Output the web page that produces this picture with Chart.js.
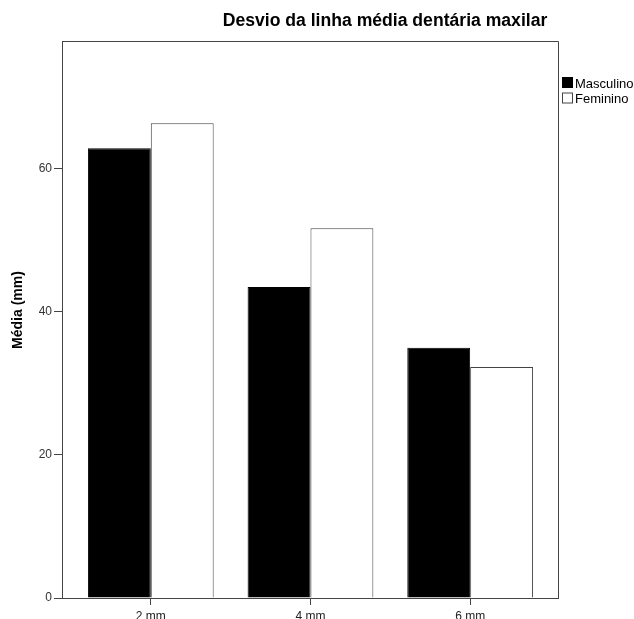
<!DOCTYPE html>
<html>
<head>
<meta charset="utf-8">
<script src="https://cdn.jsdelivr.net/npm/chart.js@4/dist/chart.umd.min.js"></script>
<style>
  html, body { margin: 0; padding: 0; background: #fff; }
  #wrap { width: 634px; height: 619px; position: relative; }
</style>
</head>
<body>
<div id="wrap"><canvas id="c" width="634" height="619"></canvas></div>
<script>
// ---- data ----
const chartTitle = 'Desvio da linha média dentária maxilar';
const yAxisTitle = 'Média (mm)';
const categories = ['2 mm', '4 mm', '6 mm'];
const seriesNames = ['Masculino', 'Feminino'];
const masculino = [62.9, 43.5, 35.0];
const feminino = [66.4, 51.7, 32.3];
const yTicks = [0, 20, 40, 60];
const yMax = 77.9;

const FONT = "'Liberation Sans', Arial, sans-serif";
const AXIS = '#444';

const toPoints = arr => arr.map((v, i) => ({ x: i + 1, y: v }));

const decor = {
  id: 'decor',
  afterDraw(chart) {
    const ctx = chart.ctx;
    const a = chart.chartArea;
    ctx.save();
    // frame top and right
    ctx.strokeStyle = AXIS;
    ctx.lineWidth = 1;
    ctx.beginPath();
    ctx.moveTo(Math.round(a.left) + 0.5, Math.round(a.top) + 0.5);
    ctx.lineTo(Math.round(a.right) + 0.5, Math.round(a.top) + 0.5);
    ctx.lineTo(Math.round(a.right) + 0.5, Math.round(a.bottom) + 0.5);
    ctx.stroke();
    // title
    ctx.fillStyle = '#000';
    ctx.font = 'bold 17.6px ' + FONT;
    ctx.textAlign = 'center';
    ctx.textBaseline = 'alphabetic';
    ctx.fillText(chartTitle, 385, 26);
    // y title
    ctx.save();
    ctx.translate(22, 310);
    ctx.rotate(-Math.PI / 2);
    ctx.font = 'bold 14px ' + FONT;
    ctx.textAlign = 'center';
    ctx.fillText(yAxisTitle, 0, 0);
    ctx.restore();
    // legend
    ctx.font = '13px ' + FONT;
    ctx.textAlign = 'left';
    chart.data.datasets.forEach((ds, i) => {
      const y = 77 + i * 15.5;
      ctx.fillStyle = ds.backgroundColor;
      ctx.fillRect(562, y, 11, 11);
      ctx.strokeStyle = ds.borderColor;
      ctx.strokeRect(562.5, y + 0.5, 10, 10);
      ctx.fillStyle = '#000';
      ctx.fillText(ds.label, 575, y + 10.5);
    });
    ctx.restore();
  }
};

new Chart(document.getElementById('c'), {
  type: 'bar',
  data: {
    datasets: [
      { label: seriesNames[0], data: toPoints(masculino), backgroundColor: '#000', borderColor: '#000', borderWidth: 1 },
      { label: seriesNames[1], data: toPoints(feminino), backgroundColor: '#fff', borderColor: '#444', borderWidth: 1 }
    ]
  },
  options: {
    responsive: false,
    animation: false,
    devicePixelRatio: 1,
    layout: { padding: { top: 41, right: 76, left: 0, bottom: 0 } },
    plugins: { legend: { display: false }, title: { display: false }, tooltip: { enabled: false } },
    datasets: { bar: { categoryPercentage: 0.7875, barPercentage: 1 } },
    scales: {
      x: {
        type: 'linear',
        min: 0.444,
        max: 3.55,
        offset: false,
        afterFit(s) { s.height = 21; },
        afterBuildTicks(s) { s.ticks = categories.map((c, i) => ({ value: i + 1 })); },
        ticks: {
          includeBounds: false,
          autoSkip: false,
          maxRotation: 0,
          padding: 4,
          color: '#222',
          font: { family: FONT, size: 12 },
          callback: v => categories[v - 1] ?? ''
        },
        grid: { drawOnChartArea: false, offset: false, tickLength: 7, color: AXIS, tickColor: AXIS },
        border: { display: true, color: AXIS, width: 1 }
      },
      y: {
        min: 0,
        max: yMax,
        afterFit(s) { s.width = 62; },
        afterBuildTicks(s) { s.ticks = yTicks.map(v => ({ value: v })); },
        ticks: {
          includeBounds: false,
          padding: 2,
          color: '#333',
          font: { family: FONT, size: 12 }
        },
        grid: { drawOnChartArea: false, tickLength: 8, color: AXIS, tickColor: AXIS },
        border: { display: true, color: AXIS, width: 1 }
      }
    }
  },
  plugins: [decor]
});
</script>
</body>
</html>
